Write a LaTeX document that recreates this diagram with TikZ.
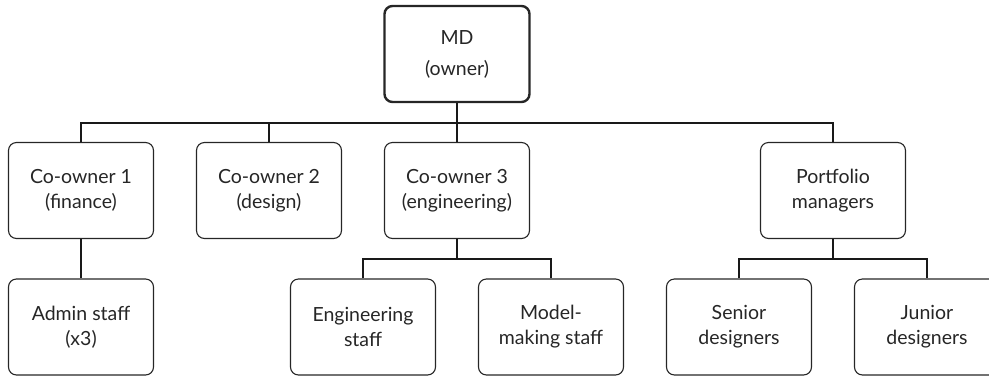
\documentclass[tikz,border=0pt]{standalone}
\usepackage{fontspec}
\setmainfont{Lato}
\begin{document}
\begin{tikzpicture}[x=1pt,y=-1pt,
  box/.style={draw=black!85, line width=1.1pt, rounded corners=8pt,
    minimum width=145pt, minimum height=96pt, inner sep=0pt,
    align=center, text=black!85, font=\fontsize{19.5}{25}\selectfont},
  headbox/.style={box, line width=2.4pt, font=\fontsize{19.5}{31}\selectfont},
  link/.style={draw=black!90, line width=1.3pt}]
\useasboundingbox (0,0) rectangle (989,376);

% managing director
\node[headbox] (md) at (457,54) {MD\\(owner)};

% second level
\node[box] (c1) at (81,190.5)  {Co-owner 1\\(finance)};
\node[box] (c2) at (269,190.5) {Co-owner 2\\(design)};
\node[box] (c3) at (457,190.5) {Co-owner 3\\(engineering)};
\node[box] (pm) at (833,190.5) {Portfolio\\managers};

% staff level
\node[box] (admin)  at (81,327)  {Admin staff\\(x3)};
\node[box] (eng)    at (363,327) {Engineering\\staff};
\node[box] (model)  at (551,327) {Model-\\making staff};
\node[box] (senior) at (739,327) {Senior\\designers};
\node[box] (junior) at (927,327) {Junior\\designers};

% junction points of the branch lines
\coordinate (bar)    at (457,123);
\coordinate (engbar) at (457,259);
\coordinate (desbar) at (833,259);

% connectors
\draw[link] (md.south) -- (c3.north);
\draw[link] (c1.north) |- (bar) -| (pm.north);
\draw[link] (c2.north) -- (c2.north |- bar);
\draw[link] (c1.south) -- (admin.north);
\draw[link] (c3.south) -- (engbar);
\draw[link] (eng.north) |- (engbar) -| (model.north);
\draw[link] (pm.south) -- (desbar);
\draw[link] (senior.north) |- (desbar) -| (junior.north);
\end{tikzpicture}
\end{document}
